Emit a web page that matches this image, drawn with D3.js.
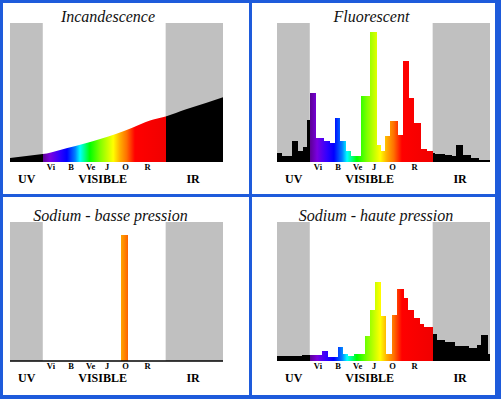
<!DOCTYPE html>
<html>
<head>
<meta charset="utf-8">
<script src="https://cdn.jsdelivr.net/npm/d3@7"></script>
<style>
  body { margin: 0; background: #fff; }
</style>
</head>
<body>
<script>
// wavelength labels (nm)
const regionNames = ["UV", "VISIBLE", "IR"];
const regionCenters = [361, 546, 767];
const bandNames = ["Vi", "B", "Ve", "J", "O", "R"];
const bandCenters = [420, 469, 517, 557, 602, 656];

// Incandescence: smooth curve, relative intensity (100 = top of grey zone)
const incandWl = [320, 360, 400, 420, 460, 500, 540, 580, 620, 660, 700, 750, 800, 840];
const incandValues = [2.9, 4.3, 5.7, 6.9, 10, 13.1, 16.5, 20.3, 24.8, 29.6, 32.7, 37.9, 42.7, 46.5];

// Fluorescent: bin edges (nm) and heights
const fluoEdges = [320, 332, 357, 371, 383, 393, 400, 414, 434, 450, 461, 475, 489, 501, 526, 546, 564, 574,
                   584, 597, 615, 627, 643, 655, 672, 686, 700, 706, 729, 747, 758, 774, 794, 814, 840];
const fluoValues = [6.4, 4.5, 15, 7.6, 10.5, 30, 49.4, 17.2, 14.8, 13.6, 31.5, 14.8, 7.6, 4.5, 47.5, 93.6, 12.4,
                    7.6, 18.4, 29.6, 19.1, 72.6, 45.8, 28.4, 9.3, 7.6, 6.4, 6, 5.3, 4.1, 12.4, 4.8, 2.9, 1.7];

// Sodium low pressure
const naLowEdges = [590, 609];
const naLowValues = [90.4];

// Sodium high pressure
const naHighEdges = [320, 381, 400, 430, 444, 469, 481, 493, 507, 534, 548, 560, 574, 587, 601, 613, 629, 641,
                     655, 668, 678, 700, 711, 729, 755, 788, 808, 818, 834, 840];
const naHighValues = [3.4, 4.6, 4.1, 7.2, 2.9, 9.8, 5.3, 3.6, 5, 17.7, 36.9, 56.8, 32.1, 5.3, 32.9, 52, 45.6,
                      36.9, 31.2, 26.9, 24.5, 19.7, 14.9, 13.7, 10.8, 9.6, 11.3, 18.5, 5.3];

const W = 501, H = 399;
const plotW = 213, plotH = 139;
const blue = "#1e5bdb";
const serif = "'Liberation Serif', 'Times New Roman', Times, 'DejaVu Serif', serif";

let x = d3.scaleLinear().domain([320, 840]).range([0, plotW]);
let y = d3.scaleLinear().domain([0, 100]).range([plotH, 0]);

const svg = d3.select("body").append("svg")
              .attr("width", W)
              .attr("height", H);

svg.append("rect").attr("width", W).attr("height", H).attr("fill", blue);

// white panels
const panelBoxes = [[3, 3, 246, 191], [252, 3, 243, 191], [3, 197, 246, 198], [252, 197, 243, 198]];
svg.selectAll(".panel")
   .data(panelBoxes)
   .enter().append("rect")
   .attr("class", "panel")
   .attr("x", d => d[0]).attr("y", d => d[1])
   .attr("width", d => d[2]).attr("height", d => d[3])
   .attr("fill", "#fff");

// spectrum gradient, black outside visible
const spectrum = [
  [400, "#000"], [400, "#5a0090"], [418, "#7a00e0"], [442, "#3000ff"], [459, "#0000ff"],
  [479, "#0080ff"], [491, "#00ffff"], [503, "#00ff80"], [515, "#00ff00"], [540, "#80ff00"],
  [572, "#ffff00"], [588, "#ffb000"], [605, "#ff7000"], [625, "#ff0000"], [700, "#f00000"], [700, "#000"]
];
let grad = svg.append("defs").append("linearGradient")
              .attr("id", "spectrum")
              .attr("gradientUnits", "userSpaceOnUse")
              .attr("x1", 0).attr("x2", plotW).attr("y1", 0).attr("y2", 0);
grad.selectAll("stop")
    .data(spectrum)
    .enter().append("stop")
    .attr("offset", d => x(d[0]) / plotW)
    .attr("stop-color", d => d[1]);

const panels = [
  {title: "Incandescence", ox: 10, oy: 23, tx: 98},
  {title: "Fluorescent", ox: 277, oy: 23, tx: 94.5, edges: fluoEdges, values: fluoValues},
  {title: "Sodium - basse pression", ox: 10, oy: 222, tx: 100.5, edges: naLowEdges, values: naLowValues, base: true},
  {title: "Sodium - haute pression", ox: 277, oy: 222, tx: 99, edges: naHighEdges, values: naHighValues}
];

panels.forEach((p, i) => {
  let g = svg.append("g").attr("transform", "translate(" + p.ox + "," + p.oy + ")");

  // grey UV / IR zones
  g.selectAll(".zone")
   .data([[320, 400], [700, 840]])
   .enter().append("rect")
   .attr("class", "zone")
   .attr("x", d => x(d[0]))
   .attr("width", d => x(d[1]) - x(d[0]))
   .attr("y", y(100))
   .attr("height", y(0) - y(100))
   .attr("fill", "#c0c0c0");

  if (i === 0) {
    let pts = incandWl.map((w, k) => ({w: w, v: incandValues[k]}));
    let area = d3.area()
                 .x(d => x(d.w))
                 .y0(y(0))
                 .y1(d => y(d.v))
                 .curve(d3.curveMonotoneX);
    g.append("path")
     .datum(pts)
     .attr("d", area)
     .attr("fill", "url(#spectrum)");
  } else {
    let bins = p.values.map((v, k) => ({a: p.edges[k], b: p.edges[k + 1], v: v}));
    g.selectAll(".bar")
     .data(bins)
     .enter().append("rect")
     .attr("class", "bar")
     .attr("x", d => x(d.a))
     .attr("width", d => x(d.b) - x(d.a))
     .attr("y", d => y(d.v))
     .attr("height", d => y(0) - y(d.v))
     .attr("fill", "url(#spectrum)")
     .style("shape-rendering", "crispEdges");
  }

  if (p.base) {
    g.append("line")
     .attr("x1", 0).attr("x2", plotW)
     .attr("y1", y(0)).attr("y2", y(0))
     .attr("stroke", "#000")
     .attr("stroke-width", 1.5);
  }

  // Title
  g.append("text")
   .attr("x", p.tx)
   .attr("y", -1.5)
   .attr("text-anchor", "middle")
   .attr("font-family", serif)
   .attr("font-style", "italic")
   .attr("font-size", 16)
   .attr("fill", "#111")
   .text(p.title);

  // colour names
  g.selectAll(".band")
   .data(bandNames)
   .enter().append("text")
   .attr("class", "band")
   .attr("x", (d, k) => x(bandCenters[k]))
   .attr("y", plotH + 8)
   .attr("text-anchor", "middle")
   .attr("font-family", serif)
   .attr("font-weight", "bold")
   .attr("font-size", 8.5)
   .text(d => d);

  // UV / VISIBLE / IR
  g.selectAll(".region")
   .data(regionNames)
   .enter().append("text")
   .attr("class", "region")
   .attr("x", (d, k) => x(regionCenters[k]))
   .attr("y", plotH + 20.5)
   .attr("text-anchor", "middle")
   .attr("font-family", serif)
   .attr("font-weight", "bold")
   .attr("font-size", 12)
   .text(d => d);
});
</script>
</body>
</html>
